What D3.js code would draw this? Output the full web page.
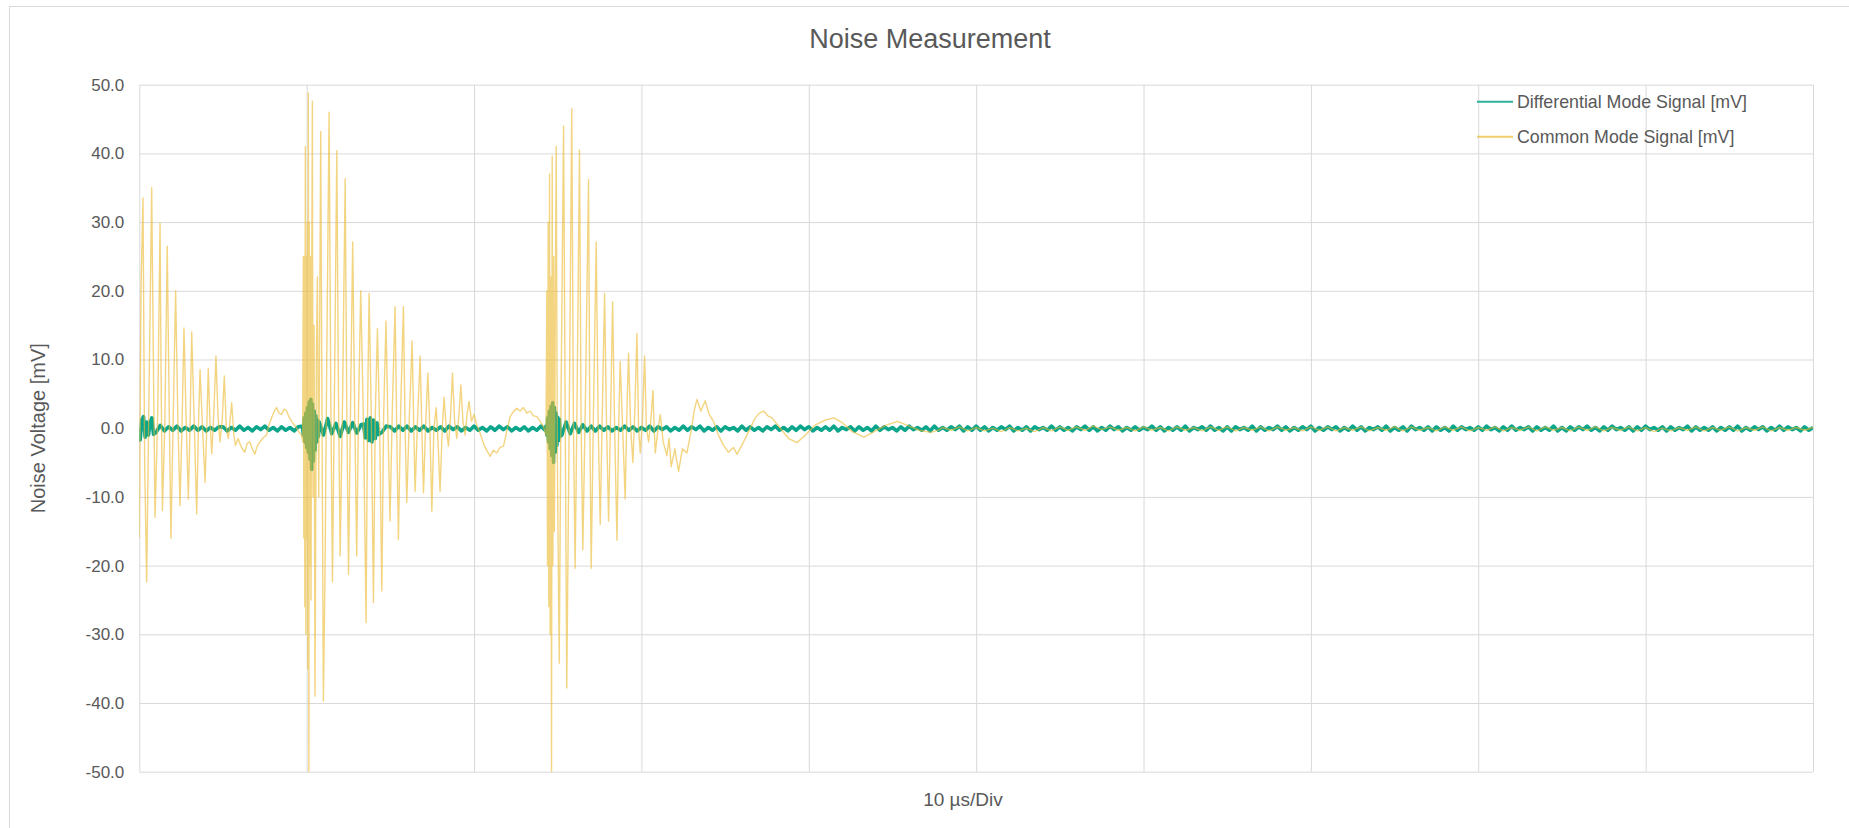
<!DOCTYPE html>
<html>
<head>
<meta charset="utf-8">
<script src="https://cdn.jsdelivr.net/npm/d3@7"></script>
<style>
  body { margin:0; background:#fff; }
  text { font-family: "Liberation Sans", Arial, sans-serif; fill:#595959; }
</style>
</head>
<body>
<svg id="chart" width="1849" height="828"></svg>
<script>
// ---- data -------------------------------------------------------------
const chartTitle = "Noise Measurement";
const xTitle = "10 µs/Div";
const yTitle = "Noise Voltage [mV]";
const seriesNames = ["Differential Mode Signal [mV]", "Common Mode Signal [mV]"];
const yTicks = [-50, -40, -30, -20, -10, 0, 10, 20, 30, 40, 50];
const xTicks = [0, 10, 20, 30, 40, 50, 60, 70, 80, 90, 100]; // µs, one per division

// differential mode, one sample every 0.25 µs
const dmStep = 0.25;
const dmBase = [
  -1.2,1.7,-0.8,1.4,-0.6,0.4,-0.4,0.2,-0.3,0.3,-0.4,0.1,-0.3,0.3,-0.3,0.2,-0.4,0.1,-0.3,0.2,
  0.2,-0.4,0.1,-0.3,0.3,-0.3,0.1,-0.4,0.2,-0.2,0.3,-0.3,0.1,-0.4,0.2,-0.3,0.1,-0.4,0.2,-0.3,
  -2.8,4.2,-3.2,0.9,-1.0,1.4,-0.8,0.7,-1.2,0.9,-0.6,0.8,-0.7,0.5,-1.6,1.3,-1.9,1.0,-0.6,0.3,
  0.2,-0.4,0.3,-0.3,0.3,-0.4,0.2,-0.3,0.3,-0.4,0.1,-0.3,0.2,-0.4,0.3,-0.2,0.2,-0.4,0.1,-0.3,
  0.3,-0.3,0.1,-0.4,0.2,-0.3,0.3,-0.2,0.2,-0.4,0.1,-0.3,0.2,-0.4,0.1,-0.3,0.3,-0.3,1.5,-2.5,
  1.2,-1.0,0.9,-0.8,0.7,-0.6,0.5,-0.4,0.3,-0.4,0.3,-0.3,0.2,-0.4,0.1,-0.3,0.3,-0.3,0.2,-0.4,
  0.1,-0.3,0.3,-0.4,0.2,-0.2,0.2,-0.4,0.1,-0.3,0.3,-0.3,0.2,-0.2,0.3,-0.4,0.1,-0.3,0.2,-0.4,
  0.2,-0.2,0.1,-0.4,0.3,-0.3,0.2,-0.3,0.1,-0.4,0.2,-0.2,0.3,-0.3,0.1,-0.4,0.2,-0.3,0.3,-0.2,
  0.2,-0.4,0.1,-0.3,0.2,-0.3,0.3,-0.4,0.1,-0.2,0.2,-0.4,0.2,-0.3,0.1,-0.4,0.3,-0.3,0.2,-0.2,
  0.1,-0.4,0.2,-0.3,0.3,-0.2,0.1,-0.3,0.2,-0.4,0.3,-0.3,0.1,-0.3,0.2,-0.2,0.3,-0.4,0.2,-0.3,
  0.3,-0.3,0.2,-0.4,0.1,-0.3,0.2,-0.2,0.3,-0.4,0.1,-0.3,0.2,-0.4,0.2,-0.2,0.1,-0.3,0.3,-0.3,
  0.2,-0.3,0.1,-0.4,0.2,-0.2,0.3,-0.3,0.2,-0.4,0.1,-0.3,0.3,-0.2,0.2,-0.4,0.1,-0.3,0.2,-0.3,
  0.1,-0.2,0.3,-0.3,0.2,-0.4,0.1,-0.3,0.2,-0.3,0.3,-0.4,0.1,-0.2,0.2,-0.3,0.3,-0.3,0.1,-0.4,
  0.2,-0.4,0.2,-0.2,0.1,-0.3,0.3,-0.4,0.2,-0.3,0.1,-0.2,0.3,-0.3,0.2,-0.4,0.1,-0.3,0.2,-0.2,
  0.3,-0.4,0.1,-0.3,0.2,-0.2,0.2,-0.4,0.1,-0.3,0.3,-0.3,0.2,-0.4,0.1,-0.2,0.2,-0.3,0.3,-0.4,
  0.1,-0.3,0.2,-0.4,0.3,-0.2,0.1,-0.3,0.2,-0.4,0.2,-0.3,0.1,-0.4,0.3,-0.3,0.2,-0.2,0.1,-0.3,
  0.2,-0.3,0.3,-0.2,0.1,-0.4,0.2,-0.3,0.3,-0.3,0.1,-0.2,0.2,-0.4,0.2,-0.3,0.1,-0.3,0.3,-0.4,
  0.1,-0.4,0.2,-0.3,0.2,-0.2,0.3,-0.3,0.1,-0.4,0.2,-0.3,0.3,-0.2,0.1,-0.3,0.2,-0.4,0.2,-0.3,
  0.3,-0.2,0.1,-0.3,0.2,-0.4,0.2,-0.3,0.1,-0.2,0.3,-0.4,0.2,-0.3,0.1,-0.3,0.2,-0.4,0.1,-0.3,
  0.2,-0.3,0.3,-0.4,0.1,-0.3,0.2,-0.2,0.2,-0.4,0.1,-0.3,0.3,-0.3,0.2,-0.2,0.1,-0.4,0.2,-0.3,
  0.1
];
// finer samples [µs, mV] where the differential signal rings
const dmBurst1 = [[0,-0.5],[0.05,-1.7],[0.15,1.2],[0.25,1.7],[0.35,-1.3],[0.45,0.9],[0.55,-1.0],[0.65,0.8],[0.75,1.5],[0.85,-0.9]];
const dmBurst2 = [[9.75,0.3],[9.8,-1.0],[9.85,1.5],[9.9,-2.0],[9.95,2.2],[10.0,-2.8],[10.05,3.0],[10.1,-3.5],[10.15,3.8],[10.2,-4.5],
  [10.25,4.2],[10.3,-6.0],[10.35,3.5],[10.4,-4.8],[10.45,2.5],[10.5,-3.2],[10.55,1.8],[10.6,-2.0],[10.65,1.2],[10.7,-1.2]];
const dmBurst3 = [[13.4,0.6],[13.5,-1.4],[13.6,1.3],[13.7,-1.8],[13.8,1.5],[13.9,-2.0],[14.0,1.2],[14.1,-1.5],[14.2,0.8],[14.3,-0.9]];
const dmBurst4 = [[24.3,0.3],[24.35,-1.0],[24.4,1.5],[24.45,-2.0],[24.5,2.5],[24.55,-3.0],[24.6,3.2],[24.65,-4.0],[24.7,3.7],[24.75,-5.0],
  [24.8,3.0],[24.85,-3.5],[24.9,2.2],[24.95,-2.5],[25.0,1.6],[25.05,-1.8],[25.1,1.3],[25.15,-1.2]];

// common mode [µs, mV]
const cmPoints = [
  [0.00,-16],[0.10,20],[0.22,33.5],[0.32,-5],[0.44,-22.4],[0.58,5],[0.74,35],[0.84,10],[0.94,-13],[1.10,2],
  [1.24,29.8],[1.30,8],[1.38,-12],[1.52,0],[1.67,26.5],[1.78,4],[1.89,-16],[2.03,2],[2.17,20],[2.30,2],
  [2.43,-11.3],[2.55,0],[2.67,14.6],[2.80,1],[2.93,-10.3],[3.03,0],[3.13,14],[3.28,1],[3.43,-12.5],[3.53,0],
  [3.63,8.5],[3.78,0],[3.93,-7.9],[4.03,0],[4.12,8.7],[4.22,1],[4.33,-3.7],[4.45,2],[4.58,10.5],[4.70,2],
  [4.82,-2],[4.95,1],[5.08,7.6],[5.20,0],[5.32,-1.5],[5.42,1],[5.52,3.7],[5.65,-1],
  [5.75,-2.5],[5.9,-1.5],[6.1,-2.8],[6.3,-3.5],[6.45,-2.2],[6.6,-2],[6.75,-3],[6.9,-3.8],[7.05,-2.6],[7.2,-2],
  [7.4,-1.4],[7.6,-1],[7.75,0.5],[7.9,1.5],[8.05,2.4],[8.2,3],[8.35,2.2],[8.5,2],[8.65,2.8],[8.8,2.5],
  [8.95,1.6],[9.1,1],[9.25,0.5],[9.4,0],[9.55,-0.6],[9.7,-1],
  [9.76,-2],[9.80,25],[9.83,-16],[9.86,25],[9.89,-26],[9.92,41],[9.95,-30],[9.98,25],[10.01,-16],[10.04,30],
  [10.07,-35],[10.10,48.8],[10.13,-50],[10.16,30],[10.19,-20],[10.22,25],[10.26,-25],[10.30,20],[10.34,47.6],[10.38,-10],
  [10.44,15],[10.50,-39],[10.58,10],[10.64,22],[10.72,-10],[10.84,43.2],[10.92,0],[11.0,-39.7],[11.1,-20],[11.2,10],
  [11.34,46],[11.44,5],[11.54,-22.4],[11.66,5],[11.8,40.4],[11.9,5],[12.0,-18.6],[12.15,5],[12.3,36.3],[12.4,2],
  [12.5,-21.3],[12.62,3],[12.75,27.1],[12.87,2],[12.99,-18.6],[13.1,3],[13.23,20],[13.4,0],[13.55,-28.3],[13.64,3],
  [13.73,19.6],[13.86,2],[13.99,-25.4],[14.1,2],[14.23,14.5],[14.36,0],[14.49,-23.7],[14.6,2],[14.74,15.6],[14.86,0],
  [14.98,-13.5],[15.12,3],[15.28,17.7],[15.38,0],[15.48,-16.2],[15.62,3],[15.78,17.7],[15.88,0],[15.98,-10.8],[16.14,2],
  [16.3,12.7],[16.4,0],[16.48,-9.2],[16.62,1],[16.78,10.5],[16.88,0],[16.98,-9.4],[17.1,0],[17.24,8],[17.36,0],
  [17.48,-12.1],[17.6,0],[17.74,3],[17.85,-2],[17.97,-9.2],[18.1,0],[18.21,4.5],[18.34,0],[18.47,-2.6],[18.6,2],
  [18.71,8],[18.84,1],[18.97,-1.5],[19.1,2],[19.21,6.3],[19.34,1],[19.47,-1],[19.58,2],[19.7,3.9],[19.85,1],
  [20.0,2],[20.16,0.5],[20.36,-0.7],[20.6,-2.5],[20.96,-4.1],[21.15,-3.2],[21.36,-3.6],[21.55,-2.8],[21.76,-2.6],[21.95,-0.5],
  [22.16,1.7],[22.35,2.4],[22.55,2.9],[22.75,2.5],[22.95,3],[23.15,2.2],[23.35,2.5],[23.55,1.8],[23.75,1.7],[23.95,1],
  [24.15,0.2],
  [24.30,-1],[24.35,20],[24.39,-20],[24.43,30],[24.47,-26],[24.51,37],[24.55,-30],[24.59,22],[24.63,-50],[24.67,39.6],
  [24.71,-20],[24.76,25],[24.80,-15],[24.86,20],[24.91,41],[24.98,-5],[25.09,-34.2],[25.2,5],[25.35,44],[25.45,0],
  [25.54,-37.8],[25.7,5],[25.84,46.5],[25.94,0],[26.04,-20.4],[26.16,5],[26.30,40.5],[26.4,0],[26.5,-17.7],[26.66,5],
  [26.84,36.2],[26.92,0],[27.0,-20.4],[27.14,3],[27.3,27.1],[27.42,0],[27.54,-14],[27.66,2],[27.8,19.6],[27.92,0],
  [28.04,-13.5],[28.16,2],[28.28,18.4],[28.4,0],[28.54,-16.3],[28.64,0],[28.73,9.7],[28.88,0],[29.03,-10.3],[29.13,2],
  [29.23,10.9],[29.36,0],[29.49,-5],[29.6,2],[29.73,13.8],[29.83,0],[29.93,-3.6],[30.06,1],[30.19,10.5],[30.3,0],
  [30.43,-2],[30.56,1],[30.69,5.5],[30.76,0],[30.83,-3.6],[31.0,0],[31.13,2],[31.3,-2],[31.52,-4],[31.65,-1.5],
  [31.78,-5.6],[32.0,-3],[32.22,-6.3],[32.45,-3],[32.72,-3.6],[33.0,0],[33.15,2.5],[33.32,4.2],[33.55,2.5],[33.81,4],
  [34.05,2],[34.31,1],[34.6,-1],[34.91,-2.5],[35.2,-3.5],[35.5,-2.8],[35.71,-3.8],[36.0,-2.5],[36.3,-1],[36.8,1.5],
  [37.05,2.2],[37.3,2.5],[37.55,1.8],[37.8,1.5],[38.3,0],[38.8,-1.5],[39.05,-1.8],[39.3,-2.1],[39.8,-1],[40.4,0.5],
  [41.0,1.2],[41.5,1.5],[42.0,0.8],[42.6,-0.5],[43.3,-1.3],[43.9,-0.5],[44.6,0.4],[45.3,1],[45.9,0.4],[46.6,-0.3],
  [47.3,-0.6],[47.8,-0.2]
];
// common mode tail, one sample every 0.5 µs from 48 µs on
const cmTailStart = 48;
const cmTailStep = 0.5;
const cmTail = [
  0.1,-0.3,0.2,-0.4,0.1,-0.4,0.0,-0.5,0.1,-0.4,
  0.0,-0.5,0.1,-0.4,0.2,-0.3,0.2,-0.3,0.3,-0.2,
  0.2,-0.3,0.1,-0.4,0.2,-0.3,0.1,-0.4,0.2,-0.3,
  0.1,-0.4,0.2,-0.3,0.2,-0.4,0.1,-0.3,0.2,-0.4,
  0.2,-0.3,0.1,-0.4,0.2,-0.3,0.2,-0.4,0.1,-0.3,
  0.2,-0.4,0.1,-0.3,0.2,-0.4,0.2,-0.3,0.1,-0.4,
  0.2,-0.3,0.2,-0.4,0.1,-0.3,0.2,-0.4,0.1,-0.3,
  0.2,-0.4,0.2,-0.3,0.1,-0.4,0.2,-0.3,0.2,-0.4,
  0.1,-0.3,0.2,-0.4,0.1,-0.5,0.0,-0.4,0.1,-0.3,
  0.2,-0.4,0.1,-0.3,0.2,-0.4,0.1,-0.3,0.2,-0.4,
  0.1,-0.3,0.1,-0.3,0.1
];

// ---- layout -----------------------------------------------------------
const W = 1849, H = 828;
const margin = {top: 84.7, right: 36, bottom: 56.3, left: 139.3};
const width = W - margin.left - margin.right,
      height = H - margin.top - margin.bottom;
const dmColor = "#0ba58b", cmColor = "#ecb932", gridColor = "#d9d9d9";

const svg = d3.select("#chart");

// chart area border (only left and top edges fall inside the picture)
svg.append("rect")
  .attr("x", 9.5).attr("y", 6.5)
  .attr("width", W).attr("height", H)
  .attr("fill", "none").attr("stroke", gridColor);

const x = d3.scaleLinear().domain([0, 100]).range([0, width]);
const y = d3.scaleLinear().domain([-50, 50]).range([height, 0]);

const g = svg.append("g")
  .attr("transform", "translate(" + margin.left + "," + margin.top + ")");

// gridlines
g.append("g")
  .attr("class", "grid")
  .call(d3.axisLeft(y).tickValues(yTicks).tickSize(-width).tickPadding(15)
        .tickFormat(d => d.toFixed(1)))
  .call(a => a.select(".domain").remove())
  .call(a => a.selectAll("line").attr("stroke", gridColor))
  .call(a => a.selectAll("text").attr("font-size", 17).attr("fill", "#595959")
        .attr("font-family", '"Liberation Sans", Arial, sans-serif'));

g.append("g")
  .attr("transform", "translate(0," + height + ")")
  .call(d3.axisBottom(x).tickValues(xTicks).tickSize(-height).tickFormat(""))
  .call(a => a.select(".domain").remove())
  .call(a => a.selectAll("line").attr("stroke", gridColor));

// build series
const dmBursts = [dmBurst1, dmBurst2, dmBurst3, dmBurst4];
let dmData = dmBase.map((v, i) => [i * dmStep, v])
  .filter(p => !dmBursts.some(b => p[0] >= b[0][0] && p[0] <= b[b.length - 1][0]));
dmBursts.forEach(b => { dmData = dmData.concat(b); });
dmData.sort((a, b) => a[0] - b[0]);

const cmData = cmPoints.concat(cmTail.map((v, i) => [cmTailStart + i * cmTailStep, v]));

svg.append("defs").append("clipPath").attr("id", "plotclip")
  .append("rect").attr("x", 0).attr("y", 0).attr("width", width).attr("height", height);

const line = d3.line().x(d => x(d[0])).y(d => y(d[1]));

const plot = g.append("g").attr("clip-path", "url(#plotclip)");
plot.append("path")
  .datum(dmData)
  .attr("d", line)
  .attr("fill", "none")
  .attr("stroke", dmColor)
  .attr("stroke-width", 3.6)
  .attr("stroke-linejoin", "round");

plot.append("path")
  .datum(cmData)
  .attr("d", line)
  .attr("fill", "none")
  .attr("stroke", cmColor)
  .attr("stroke-opacity", 0.62)
  .attr("stroke-width", 1.4)
  .attr("stroke-linejoin", "round");

// titles
svg.append("text")
  .attr("x", 930).attr("y", 48)
  .attr("text-anchor", "middle")
  .attr("font-size", 27)
  .text(chartTitle);

svg.append("text")
  .attr("x", 963).attr("y", 806)
  .attr("text-anchor", "middle")
  .attr("font-size", 19)
  .text(xTitle);

svg.append("text")
  .attr("transform", "translate(45," + (margin.top + height / 2) + ") rotate(-90)")
  .attr("text-anchor", "middle")
  .attr("font-size", 20)
  .text(yTitle);

// legend
const legend = svg.append("g").attr("transform", "translate(1477,101.7)");
[dmColor, cmColor].forEach((c, i) => {
  const row = legend.append("g").attr("transform", "translate(0," + i * 35 + ")");
  row.append("line").attr("x1", 0).attr("x2", 36).attr("y1", 0).attr("y2", 0)
    .attr("stroke", c).attr("stroke-width", 2).attr("stroke-opacity", i ? 0.7 : 0.85);
  row.append("text").attr("x", 40).attr("y", 0).attr("dy", "0.35em")
    .attr("font-size", 17.8).text(seriesNames[i]);
});
</script>
</body>
</html>
